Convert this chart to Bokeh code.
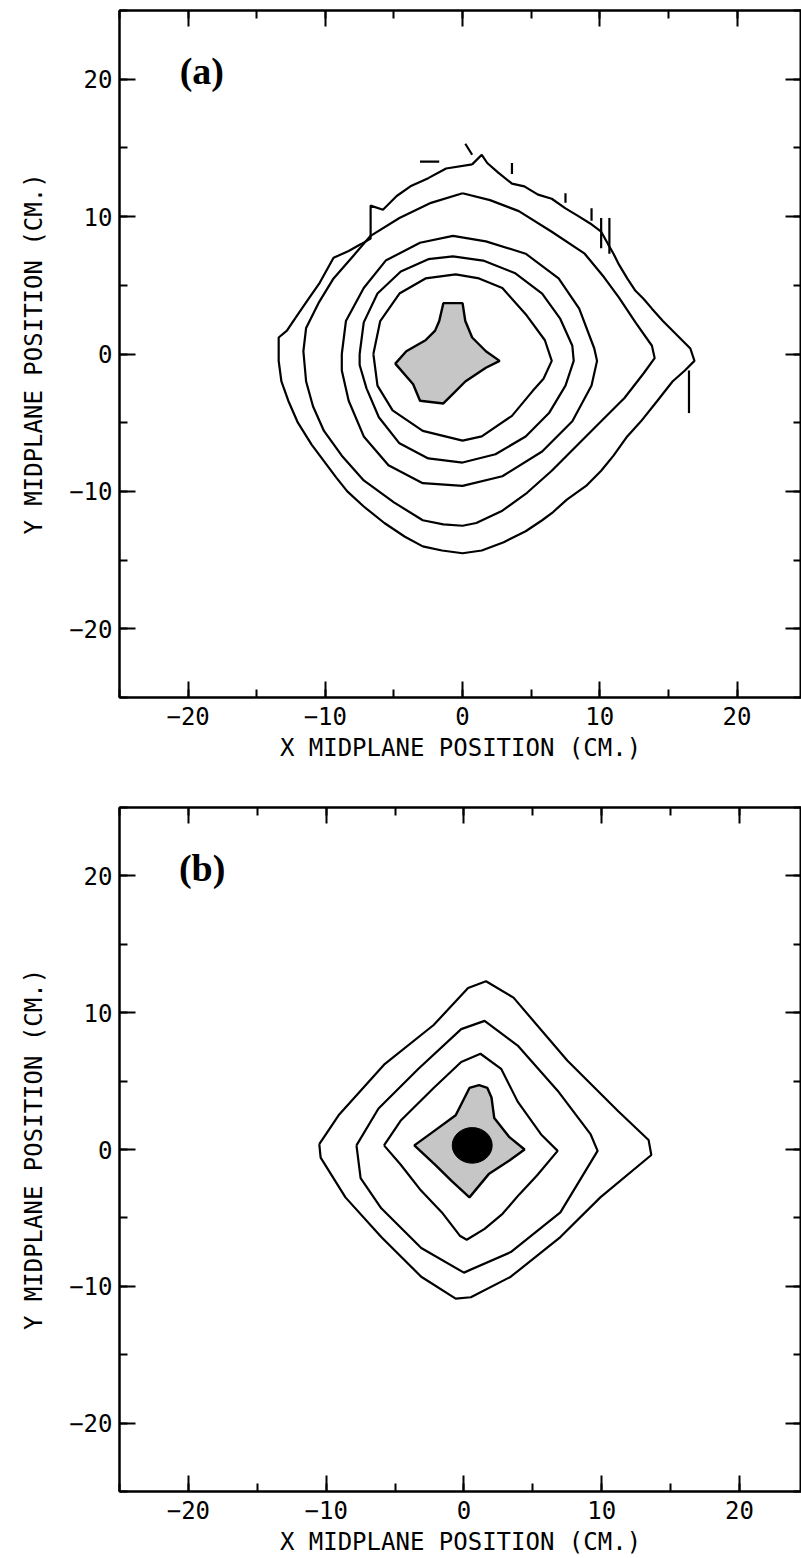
from bokeh.plotting import figure
from bokeh.models import LinearAxis, SingleIntervalTicker, Range1d, Label
from bokeh.layouts import column
from bokeh.embed import file_html
from bokeh.resources import INLINE

# ---------------- data (cm) ----------------
# Panel (a): contour rings, outermost first
A_RING1_X = [0.7, 1.4, 1.8, 2.6, 3.6, 4.5, 5.5, 6.5, 7.5, 8.5, 9.3, 10.1, 10.6, 11.0, 11.4, 12.0, 12.6,
             13.2, 13.8, 14.6, 15.4, 16.0, 16.6, 16.9, 16.2, 15.3, 14.2, 13.0, 12.0, 11.0, 10.1, 9.0, 7.6,
             6.6, 5.8, 4.6, 3.0, 1.4, 0.0, -1.5, -2.9, -4.2, -5.7, -7.2, -8.4, -9.2, -10.1, -11.0, -12.0,
             -12.7, -13.2, -13.4, -13.4, -12.8, -12.2, -11.3, -10.4, -9.4, -8.3, -7.4, -6.7, -6.7, -5.8,
             -4.8, -3.8, -2.5, -1.2, 0.7]
A_RING1_Y = [13.8, 14.5, 13.9, 13.2, 12.4, 12.2, 11.6, 11.3, 10.6, 10.0, 9.5, 8.9, 8.0, 7.3, 6.5, 5.5, 4.6,
             4.0, 3.3, 2.4, 1.6, 1.0, 0.4, -0.5, -1.2, -2.0, -3.4, -4.9, -6.0, -7.4, -8.5, -9.6, -10.6,
             -11.5, -12.1, -12.9, -13.7, -14.3, -14.5, -14.3, -14.0, -13.3, -12.3, -11.1, -10.0, -9.0, -7.8,
             -6.6, -5.0, -3.4, -2.0, -0.5, 1.2, 1.7, 2.6, 3.9, 5.2, 7.0, 7.5, 8.0, 8.4, 10.8, 10.5, 11.5,
             12.2, 12.8, 13.5, 13.8]
A_RING2_X = [0.0, 2.0, 4.1, 6.5, 8.9, 10.3, 11.4, 12.6, 13.8, 14.0, 13.2, 11.8, 10.1, 8.3, 6.5, 4.7, 2.9,
             1.0, 0.0, -1.4, -2.9, -5.0, -7.2, -8.8, -10.1, -10.9, -11.4, -11.6, -11.4, -10.5, -9.4, -8.0,
             -6.7, -4.6, -2.3, 0.0]
A_RING2_Y = [11.7, 11.2, 10.4, 8.9, 7.3, 5.6, 4.1, 2.3, 0.6, -0.3, -1.4, -3.2, -4.9, -6.7, -8.5, -10.1,
             -11.4, -12.3, -12.5, -12.4, -12.1, -10.8, -9.2, -7.4, -5.6, -3.8, -2.0, 0.2, 1.9, 3.7, 5.5,
             7.1, 8.6, 9.9, 11.0, 11.7]
A_RING3_X = [-8.8, -8.5, -7.2, -5.6, -3.1, -0.7, 1.7, 4.6, 7.0, 8.5, 9.6, 9.8, 9.4, 8.0, 5.8, 2.9, 0.0,
             -2.9, -5.4, -7.2, -8.3, -8.8, -8.8]
A_RING3_Y = [0.0, 2.4, 4.8, 6.8, 8.1, 8.6, 8.2, 7.3, 5.5, 3.3, 0.4, -0.5, -2.3, -4.9, -7.1, -8.9, -9.6,
             -9.4, -8.1, -6.0, -3.4, -1.2, 0.0]
A_RING4_X = [-7.5, -7.2, -6.2, -4.5, -2.5, -0.7, 1.5, 3.8, 5.8, 7.1, 8.0, 8.1, 7.5, 6.3, 4.6, 2.4, 0.0,
             -2.5, -4.6, -6.1, -7.0, -7.5, -7.5]
A_RING4_Y = [0.0, 2.3, 4.4, 6.0, 6.9, 7.1, 6.8, 5.9, 4.4, 2.6, 0.6, -0.5, -2.3, -4.3, -6.0, -7.3, -7.9,
             -7.6, -6.5, -4.6, -2.5, -0.8, 0.0]
A_RING5_X = [-6.5, -6.0, -4.6, -2.7, -0.5, 1.2, 2.9, 4.6, 6.0, 6.5, 5.9, 5.1, 3.6, 1.4, 0.0, -2.9, -5.1,
             -6.2, -6.5]
A_RING5_Y = [0.0, 2.4, 4.4, 5.5, 5.8, 5.5, 4.8, 2.9, 1.0, -0.5, -1.8, -2.7, -4.5, -6.0, -6.3, -5.6, -4.1,
             -2.3, 0.0]
# broken fragments of the outermost level in panel (a)
A_FRAG_X = [[3.6, 3.6], [7.5, 7.5], [9.4, 9.4], [10.1, 10.1], [10.7, 10.7], [16.5, 16.5],
            [-3.1, -1.7], [0.2, 0.7]]
A_FRAG_Y = [[13.9, 13.1], [11.7, 11.0], [10.6, 9.7], [9.9, 7.7], [9.9, 7.3], [-1.2, -4.3],
            [14.0, 14.0], [15.3, 14.5]]
# shaded (highest) level in panel (a)
A_CORE_X = [-1.4, 0.0, 0.2, 0.7, 1.7, 2.7, 1.7, 0.2, -0.7, -1.4, -3.1, -3.6, -4.9, -4.1, -2.7, -2.0, -1.7]
A_CORE_Y = [3.7, 3.7, 2.4, 1.2, 0.2, -0.5, -1.0, -2.0, -2.9, -3.6, -3.4, -2.2, -0.7, 0.2, 1.0, 1.7, 2.4]

# Panel (b)
B_RING1_X = [-10.5, -9.1, -5.8, -2.2, 0.3, 1.6, 3.6, 7.5, 11.2, 13.4, 13.6, 9.9, 7.0, 3.4, 0.5, -0.6,
             -3.1, -6.0, -8.6, -10.4, -10.5]
B_RING1_Y = [0.4, 2.5, 6.2, 9.1, 11.8, 12.3, 11.1, 6.5, 2.8, 0.7, -0.4, -3.5, -6.4, -9.3, -10.8, -10.9,
             -9.3, -6.4, -3.5, -0.6, 0.4]
B_RING2_X = [-7.8, -6.2, -3.3, -0.2, 1.5, 3.9, 6.8, 9.2, 9.7, 7.0, 3.4, 0.0, -3.1, -6.0, -7.5, -7.8]
B_RING2_Y = [0.3, 3.0, 5.9, 8.8, 9.4, 7.6, 4.3, 1.1, -0.1, -4.6, -7.5, -9.0, -7.2, -4.3, -2.1, 0.3]
B_RING3_X = [-5.8, -4.6, -2.2, -0.2, 1.2, 2.7, 3.9, 5.6, 6.8, 5.3, 4.0, 2.8, 1.5, 0.2, -0.3, -1.6,
             -3.2, -4.6, -5.8]
B_RING3_Y = [0.3, 2.1, 4.5, 6.4, 7.0, 5.9, 3.5, 1.1, -0.1, -1.9, -3.3, -4.7, -5.8, -6.6, -6.3, -4.6,
             -2.9, -1.1, 0.3]
B_CORE_X = [0.4, 1.1, 1.7, 2.0, 2.2, 3.3, 4.4, 3.3, 1.8, 0.4, -0.9, -2.1, -3.6, -2.1, -0.6]
B_CORE_Y = [4.5, 4.7, 4.5, 3.8, 2.3, 0.9, 0.0, -0.8, -1.8, -3.5, -2.3, -1.1, 0.3, 1.4, 2.5]
B_PEAK_X = [0.6]
B_PEAK_Y = [0.3]
B_PEAK_W = [2.9]
B_PEAK_H = [2.6]

X_TITLE = "X MIDPLANE POSITION (CM.)"
Y_TITLE = "Y MIDPLANE POSITION (CM.)"
PANEL_TAGS = ["(a)", "(b)"]

MONO = "DejaVu Sans Mono"


def make_panel(tag, rings_x, rings_y, frags_x, frags_y, core_x, core_y, peak,
               height, top, bottom, left, x_end):
    p = figure(width=801, height=height, output_backend="svg", toolbar_location=None,
               x_range=Range1d(-25, x_end), y_range=Range1d(-25, 25),
               x_axis_location=None, y_axis_location=None,
               min_border_left=left, min_border_right=0,
               min_border_top=top, min_border_bottom=bottom,
               background_fill_color="white", border_fill_color="white")
    p.grid.visible = False
    p.outline_line_color = "black"
    p.outline_line_width = 2

    def axis(side, labelled):
        ax = LinearAxis(ticker=SingleIntervalTicker(interval=10, num_minor_ticks=2))
        ax.axis_line_color = "black"
        ax.axis_line_width = 2
        ax.major_tick_in = 16
        ax.major_tick_out = 0
        ax.minor_tick_in = 8
        ax.minor_tick_out = 0
        ax.major_tick_line_width = 2
        ax.minor_tick_line_width = 2
        ax.major_tick_line_color = "black"
        ax.minor_tick_line_color = "black"
        if labelled:
            ax.major_label_text_font = MONO
            ax.major_label_text_font_size = "24px"
            ax.major_label_text_color = "black"
            ax.axis_label_text_font = MONO
            ax.axis_label_text_font_size = "24px"
            ax.axis_label_text_font_style = "normal"
            ax.axis_label_text_color = "black"
        else:
            # tick marks only, no labels drawn on the top and right frame edges
            ax.major_label_text_color = None
            ax.major_label_text_font_size = "2px"
            ax.major_label_standoff = 0
        p.add_layout(ax, side)
        return ax

    bx = axis("below", True)
    bx.axis_label = X_TITLE
    bx.major_label_standoff = 9
    bx.axis_label_standoff = 6
    ly = axis("left", True)
    ly.axis_label = Y_TITLE
    ly.major_label_standoff = 7
    ly.axis_label_standoff = 18
    axis("above", False)
    axis("right", False)

    p.patch(core_x, core_y, fill_color="#c6c6c6", line_color="black", line_width=2.4)
    if peak is not None:
        p.ellipse(x=peak[0], y=peak[1], width=peak[2], height=peak[3],
                  fill_color="black", line_color="black")
    p.multi_line(rings_x, rings_y, line_color="black", line_width=2.2)
    if frags_x:
        p.multi_line(frags_x, frags_y, line_color="black", line_width=2.2)

    p.add_layout(Label(x=-19, y=20.6, text=tag, text_font="Liberation Serif",
                       text_font_style="bold", text_font_size="38px",
                       text_align="center", text_baseline="middle", text_color="black"))
    return p


pa = make_panel(PANEL_TAGS[0],
                [A_RING1_X, A_RING2_X, A_RING3_X, A_RING4_X, A_RING5_X],
                [A_RING1_Y, A_RING2_Y, A_RING3_Y, A_RING4_Y, A_RING5_Y],
                A_FRAG_X, A_FRAG_Y, A_CORE_X, A_CORE_Y, None,
                height=790, top=10, bottom=93, left=115, x_end=24.7)
pb = make_panel(PANEL_TAGS[1],
                [B_RING1_X, B_RING2_X, B_RING3_X],
                [B_RING1_Y, B_RING2_Y, B_RING3_Y],
                None, None, B_CORE_X, B_CORE_Y,
                (B_PEAK_X, B_PEAK_Y, B_PEAK_W, B_PEAK_H),
                height=768, top=17, bottom=63, left=119, x_end=24.5)

layout = column(pa, pb, spacing=0)
open("out.html", "w").write(file_html(layout, INLINE))
